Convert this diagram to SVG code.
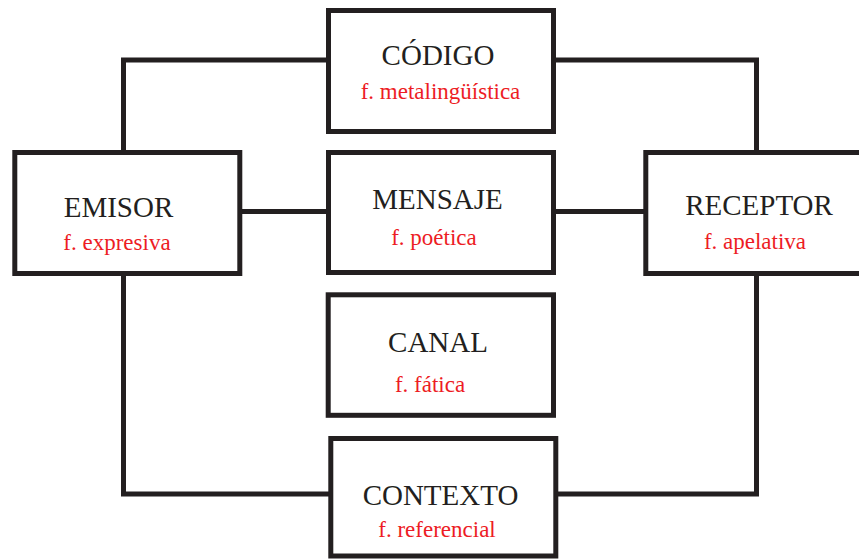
<svg xmlns="http://www.w3.org/2000/svg" width="859" height="560" viewBox="0 0 859 560">
<style>
.box{fill:#fff;stroke:#231f20;stroke-width:5}
.con{fill:none;stroke:#231f20;stroke-width:5;stroke-linejoin:miter}
.t{font-family:"Liberation Serif","Times New Roman",serif;font-size:29px;fill:#231f20;text-anchor:middle}
.s{font-family:"Liberation Serif","Times New Roman",serif;font-size:23px;fill:#ed1c24;text-anchor:middle}
</style>
<rect width="859" height="560" fill="#fff"/>
<g id="connectors">
<path class="con" d="M123.5,152 V60 H328"/>
<path class="con" d="M554,60 H756.5 V152"/>
<path class="con" d="M240,211.5 H328"/>
<path class="con" d="M554,211.5 H645"/>
<path class="con" d="M123.5,274 V494 H330"/>
<path class="con" d="M556,494 H756.5 V274"/>
</g>
<g id="emisor">
<rect class="box" x="14.8" y="152.5" width="225" height="121"/>
<text class="t" x="118.5" y="216.5">EMISOR</text>
<text class="s" x="117" y="250">f. expresiva</text>
</g>
<g id="codigo">
<rect class="box" x="328.5" y="10.5" width="225" height="121"/>
<text class="t" x="438" y="65">CÓDIGO</text>
<text class="s" x="440.5" y="99">f. metalingüística</text>
</g>
<g id="mensaje">
<rect class="box" x="328.5" y="152.5" width="225" height="120"/>
<text class="t" x="437.5" y="209.3">MENSAJE</text>
<text class="s" x="434" y="245">f. poética</text>
</g>
<g id="receptor">
<rect class="box" x="645.8" y="152.5" width="225" height="121"/>
<text class="t" x="759" y="215">RECEPTOR</text>
<text class="s" x="755" y="249">f. apelativa</text>
</g>
<g id="canal">
<rect class="box" x="328.2" y="294.8" width="225.3" height="120.5"/>
<text class="t" x="438" y="351.7">CANAL</text>
<text class="s" x="430" y="391.7">f. fática</text>
</g>
<g id="contexto">
<rect class="box" x="330.8" y="438.5" width="225" height="117.5"/>
<text class="t" x="440.5" y="505">CONTEXTO</text>
<text class="s" x="437" y="536.7">f. referencial</text>
</g>
</svg>
